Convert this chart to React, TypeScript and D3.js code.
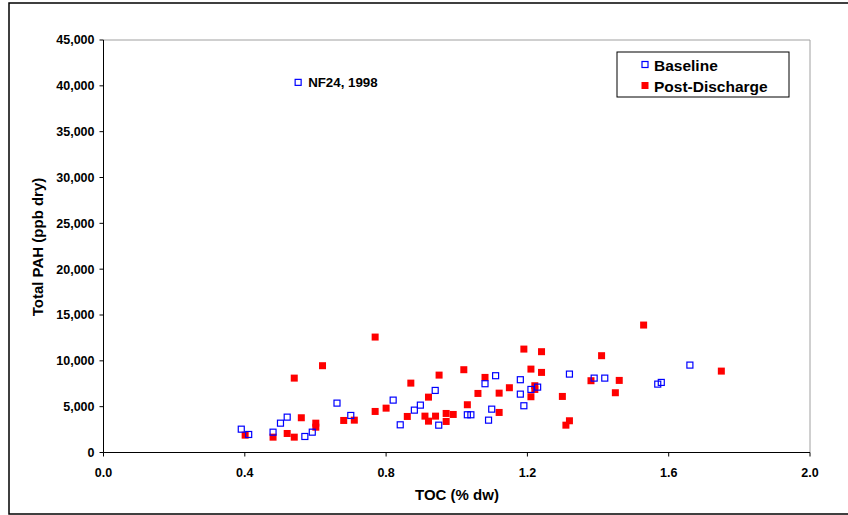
import React from "react";
import * as d3 from "d3";

const baselineX = [0.39, 0.411, 0.48, 0.501, 0.52, 0.57, 0.591, 0.661, 0.70, 0.82, 0.84, 0.88, 0.897, 0.939, 0.949, 1.03, 1.04, 1.08, 1.09, 1.099, 1.11, 1.18, 1.18, 1.19, 1.21, 1.229, 1.319, 1.389, 1.419, 1.569, 1.579, 1.66, 0.551];
const baselineY = [2545, 1966, 2218, 3200, 3858, 1747, 2218, 5387, 4041, 5715, 3021, 4622, 5168, 6771, 2982, 4117, 4117, 7503, 3528, 4729, 8377, 7940, 6367, 5100, 6880, 7132, 8553, 8115, 8115, 7460, 7645, 9535, 40378];

const postX = [0.401, 0.48, 0.52, 0.54, 0.54, 0.56, 0.601, 0.601, 0.62, 0.68, 0.71, 0.769, 0.769, 0.80, 0.86, 0.87, 0.91, 0.92, 0.92, 0.94, 0.95, 0.97, 0.97, 0.99, 1.02, 1.03, 1.06, 1.08, 1.12, 1.12, 1.149, 1.19, 1.21, 1.21, 1.221, 1.221, 1.24, 1.24, 1.299, 1.309, 1.319, 1.38, 1.41, 1.449, 1.46, 1.529, 1.749];
const postY = [1893, 1674, 2075, 1674, 8115, 3790, 3200, 2763, 9469, 3495, 3528, 12593, 4478, 4838, 3932, 7569, 3967, 6040, 3419, 3967, 8443, 4259, 3386, 4150, 9032, 5210, 6444, 8191, 6476, 4369, 7066, 11282, 9098, 6083, 7285, 6880, 10998, 8738, 6116, 2982, 3462, 7831, 10561, 6520, 7864, 13903, 8880];

const xTicks = [0, 0.4, 0.8, 1.2, 1.6, 2.0];
const yTicks = [0, 5000, 10000, 15000, 20000, 25000, 30000, 35000, 40000, 45000];
const seriesNames = ["Baseline", "Post-Discharge"];
const annotation = "NF24, 1998";

export default function App() {
  const left = 103.5, right = 810, top = 40, bottom = 452.5;
  const x = d3.scaleLinear().domain([0, 2]).range([left, right]);
  const y = d3.scaleLinear().domain([0, 45000]).range([bottom, top]);
  const fmt = d3.format(",");
  const font = "'Liberation Sans', Arial, sans-serif";
  const s = 7;
  const base = baselineX.map((v, i) => ({ x: v, y: baselineY[i] }));
  const post = postX.map((v, i) => ({ x: v, y: postY[i] }));
  const out = base[base.length - 1];
  return (
    <svg width={848} height={515} style={{ position: "absolute", left: 0, top: 0 }} fontFamily={font}>
      <rect x={0} y={0} width={848} height={515} fill="white" />
      <rect x={9} y={3} width={845} height={511} fill="none" stroke="black" strokeWidth={1.5} />
      <line x1={left} y1={top} x2={right} y2={top} stroke="#a0a0a0" />
      <line x1={right} y1={top} x2={right} y2={bottom} stroke="#a0a0a0" />
      <line x1={left} y1={top} x2={left} y2={bottom} stroke="black" />
      <line x1={left} y1={bottom} x2={right} y2={bottom} stroke="black" />
      {yTicks.map((t) => (
        <g key={"y" + t}>
          <line x1={left - 4} x2={left} y1={y(t)} y2={y(t)} stroke="black" />
          <text x={left - 9} y={y(t)} dy="0.35em" textAnchor="end" fontSize={12.5} fontWeight="bold">{fmt(t)}</text>
        </g>
      ))}
      {xTicks.map((t) => (
        <g key={"x" + t}>
          <line x1={x(t)} x2={x(t)} y1={bottom} y2={bottom + 4} stroke="black" />
          <text x={x(t)} y={bottom + 24} textAnchor="middle" fontSize={12.5} fontWeight="bold">{t.toFixed(1)}</text>
        </g>
      ))}
      <text x={457} y={499.5} textAnchor="middle" fontSize={15} fontWeight="bold">TOC (% dw)</text>
      <text transform={`translate(43,247) rotate(-90)`} textAnchor="middle" fontSize={15} fontWeight="bold">Total PAH (ppb dry)</text>
      {post.map((d, i) => (
        <rect key={"p" + i} x={x(d.x) - s / 2} y={y(d.y) - s / 2} width={s} height={s} fill="#ff0000" />
      ))}
      {base.map((d, i) => (
        <rect key={"b" + i} x={x(d.x) - 3} y={y(d.y) - 3} width={6} height={6} fill="none" stroke="#0000ff" strokeWidth={1.2} />
      ))}
      <text x={x(out.x) + 10} y={y(out.y) + 5} fontSize={13.3} fontWeight="bold">{annotation}</text>
      <rect x={617} y={52} width={172} height={45} fill="white" stroke="black" strokeWidth={1} />
      <rect x={642} y={61.5} width={6} height={6} fill="none" stroke="#0000ff" strokeWidth={1.2} />
      <text x={654} y={70.5} fontSize={15.5} fontWeight="bold">{seriesNames[0]}</text>
      <rect x={641.5} y={82} width={7} height={7} fill="#ff0000" />
      <text x={654} y={91.5} fontSize={15.5} fontWeight="bold">{seriesNames[1]}</text>
    </svg>
  );
}
